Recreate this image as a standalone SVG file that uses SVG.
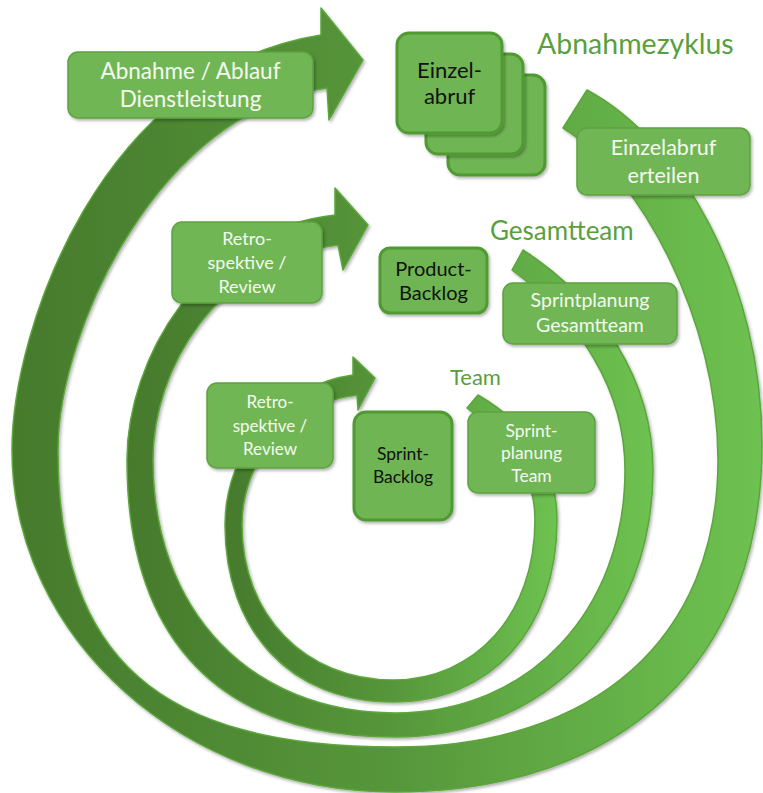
<svg xmlns="http://www.w3.org/2000/svg" width="763" height="793" viewBox="0 0 763 793">
<defs>
<linearGradient id="band" x1="0" y1="0" x2="1" y2="0">
<stop offset="0" stop-color="#467a2c"/>
<stop offset="0.5" stop-color="#56963a"/>
<stop offset="1" stop-color="#6ec251"/>
</linearGradient>
<filter id="sh" x="-10%" y="-10%" width="125%" height="125%">
<feDropShadow dx="1.5" dy="2" stdDeviation="1.5" flood-color="#000" flood-opacity="0.3"/>
</filter>
</defs>
<style>
.spiral{fill:url(#band);stroke:#5ba63b;stroke-width:1.5;stroke-linejoin:round;filter:url(#sh)}
.box{fill:#71b655;stroke:#5da33f;stroke-width:1.5;filter:url(#sh)}
.front{fill:#6fb553;stroke:#4f9a30;stroke-width:3;filter:url(#sh)}
.lbl{font-family:Lato,"Open Sans","Liberation Sans",sans-serif;fill:#f4faef;text-anchor:middle}
.blk{font-family:Lato,"Open Sans","Liberation Sans",sans-serif;fill:#111;text-anchor:middle}
.ttl{font-family:Lato,"Open Sans","Liberation Sans",sans-serif;fill:#5a9f3e}
</style>
<rect width="763" height="793" fill="#fff"/>
<g id="connectors">
<path class="spiral" d="M587,90 C680,140 762,280 762,445 C762,660 623,792 395,792 C184,792 12,638 12,450 C12,330 100,70 321,35 L321,8 L363,60 L329,120 L327,88 C160,110 58,330 58,450 C58,658 159,747 395,747 C595,747 718,638 718,460 C718,320 640,175 563,128 Z"/>
<path class="spiral" d="M523,250 C600,300 653,380 653,470 C653,625 545,737 395,737 C220,737 127,640 127,460 C127,360 200,230 335,215 L335,188 L368,225 L343,270 L338,245 C215,260 153,370 153,460 C153,610 250,713 395,713 C530,713 625,610 625,470 C625,390 580,320 512,270 Z"/>
<path class="spiral" d="M478,395 C530,425 557,470 557,520 C557,630 490,702 393,702 C290,702 225,630 225,525 C225,450 280,385 353,375 L353,357 L375,378 L358,410 L357,395 C290,403 242,460 242,525 C242,615 305,680 393,680 C475,680 535,615 535,520 C535,475 510,440 467,408 Z"/>
</g>
<g id="title-abnahmezyklus"><text class="ttl" x="537" y="54" font-size="28.5">Abnahmezyklus</text></g>
<g id="title-gesamtteam"><text class="ttl" x="490" y="240" font-size="26">Gesamtteam</text></g>
<g id="title-team"><text class="ttl" x="450" y="385" font-size="22">Team</text></g>
<g id="abnahme-ablauf">
<rect class="box" x="68" y="52" width="245" height="66" rx="10"/>
<text class="lbl" x="190.5" y="79" font-size="22.5">Abnahme / Ablauf</text>
<text class="lbl" x="190.5" y="107" font-size="22.5">Dienstleistung</text>
</g>
<g id="einzelabruf">
<rect class="front" x="448" y="75" width="97" height="100" rx="12"/>
<rect class="front" x="426" y="54" width="97" height="100" rx="12"/>
<rect class="front" x="397" y="33" width="105" height="100" rx="12"/>
<text class="blk" x="449.5" y="78" font-size="22">Einzel-</text>
<text class="blk" x="449.5" y="104" font-size="22">abruf</text>
</g>
<g id="einzelabruf-erteilen">
<rect class="box" x="577" y="128" width="173" height="67" rx="10"/>
<text class="lbl" x="663.5" y="155" font-size="21.5">Einzelabruf</text>
<text class="lbl" x="663.5" y="183" font-size="21.5">erteilen</text>
</g>
<g id="retro-gesamt">
<rect class="box" x="172" y="222" width="150" height="81" rx="10"/>
<text class="lbl" x="247" y="245" font-size="18">Retro-</text>
<text class="lbl" x="247" y="269" font-size="18">spektive /</text>
<text class="lbl" x="247" y="293" font-size="18">Review</text>
</g>
<g id="product-backlog">
<rect class="front" x="380" y="248" width="107" height="65" rx="10"/>
<text class="blk" x="433.5" y="276" font-size="20">Product-</text>
<text class="blk" x="433.5" y="300" font-size="20">Backlog</text>
</g>
<g id="sprintplanung-gesamt">
<rect class="box" x="503" y="283" width="174" height="61" rx="10"/>
<text class="lbl" x="590" y="307" font-size="19.5">Sprintplanung</text>
<text class="lbl" x="590" y="332" font-size="19.5">Gesamtteam</text>
</g>
<g id="retro-team">
<rect class="box" x="207" y="383" width="126" height="85" rx="10"/>
<text class="lbl" x="270" y="408" font-size="17">Retro-</text>
<text class="lbl" x="270" y="432" font-size="17">spektive /</text>
<text class="lbl" x="270" y="455" font-size="17">Review</text>
</g>
<g id="sprint-backlog">
<rect class="front" x="354" y="412" width="98" height="108" rx="12"/>
<text class="blk" x="403" y="460" font-size="17.5">Sprint-</text>
<text class="blk" x="403" y="483" font-size="17.5">Backlog</text>
</g>
<g id="sprintplanung-team">
<rect class="box" x="468" y="412" width="127" height="81" rx="10"/>
<text class="lbl" x="531.5" y="437" font-size="17.5">Sprint-</text>
<text class="lbl" x="531.5" y="459" font-size="17.5">planung</text>
<text class="lbl" x="531.5" y="482" font-size="17.5">Team</text>
</g>
</svg>
